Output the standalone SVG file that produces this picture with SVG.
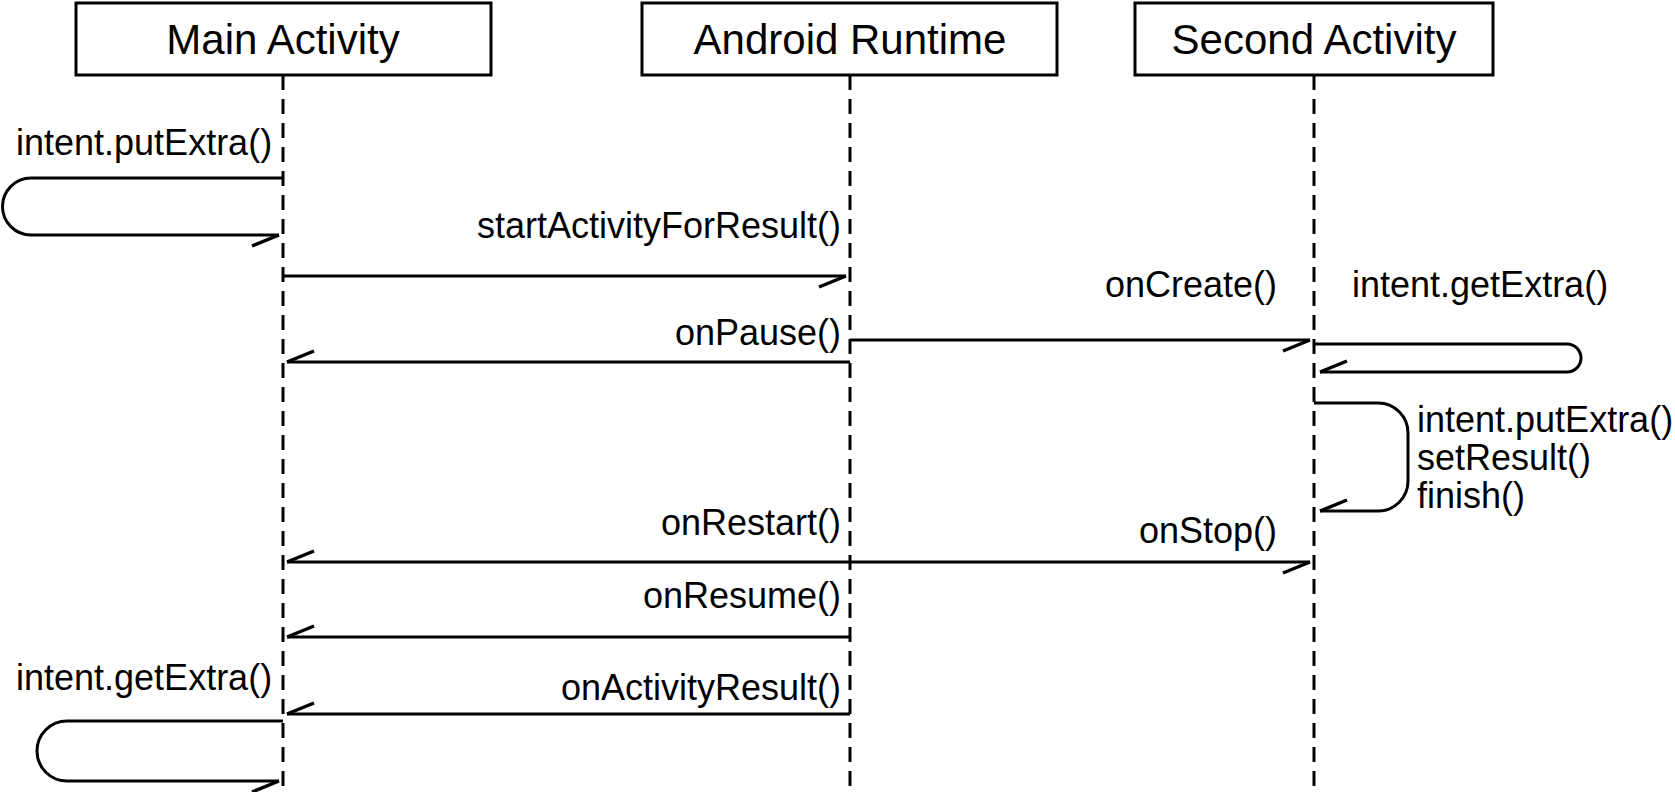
<svg xmlns="http://www.w3.org/2000/svg" width="1675" height="792" viewBox="0 0 1675 792">
<style>
.box{fill:#fff;stroke:#000;stroke-width:3}
.hdr{font-family:"Liberation Sans",Arial,sans-serif;font-size:42px;fill:#000;text-anchor:middle}
.lbl{font-family:"Liberation Sans",Arial,sans-serif;font-size:36px;fill:#000}
.end{text-anchor:end}
.life{stroke:#000;stroke-width:3;stroke-dasharray:15 9;fill:none}
.msg{stroke:#000;stroke-width:3;fill:none;marker-end:url(#half)}
</style>
<defs>
<marker id="half" markerUnits="userSpaceOnUse" viewBox="-32 -16 36 32" markerWidth="36" markerHeight="32" refX="0" refY="0" orient="auto" overflow="visible">
<path d="M0,0 L-27,11" stroke="#000" stroke-width="3.5" fill="none" stroke-linecap="butt"/>
</marker>
</defs>
<rect width="1675" height="792" fill="#fff"/>
<g id="main-activity">
<rect class="box" x="76" y="3" width="415" height="72"/>
<text class="hdr" x="283" y="54">Main Activity</text>
<line class="life" x1="283" y1="75" x2="283" y2="792"/>
</g>
<g id="android-runtime">
<rect class="box" x="642" y="3" width="415" height="72"/>
<text class="hdr" x="850" y="54">Android Runtime</text>
<line class="life" x1="850" y1="75" x2="850" y2="792"/>
</g>
<g id="second-activity">
<rect class="box" x="1135" y="3" width="358" height="72"/>
<text class="hdr" x="1314" y="54">Second Activity</text>
<line class="life" x1="1314" y1="75" x2="1314" y2="792"/>
</g>
<g id="connectors">
<path class="msg" d="M283,178 H31 A28.5,28.5 0 0 0 31,235 H279"/>
<line class="msg" x1="283" y1="276" x2="846" y2="276"/>
<line class="msg" x1="850" y1="340" x2="1310" y2="340"/>
<line class="msg" x1="850" y1="362" x2="287" y2="362"/>
<path class="msg" d="M1314,344 H1567 A14,14 0 0 1 1567,372 H1320"/>
<path class="msg" d="M1314,403 H1378 A30,30 0 0 1 1408,433 V481 A30,30 0 0 1 1378,511 H1320"/>
<line class="msg" x1="850" y1="562" x2="287" y2="562"/>
<line class="msg" x1="850" y1="562" x2="1310" y2="562"/>
<line class="msg" x1="850" y1="637" x2="287" y2="637"/>
<line class="msg" x1="850" y1="714" x2="287" y2="714"/>
<path class="msg" d="M283,721 H67 A30,30 0 0 0 67,781 H279"/>
</g>
<g id="labels">
<text class="lbl" x="16" y="155">intent.putExtra()</text>
<text class="lbl end" x="841" y="238">startActivityForResult()</text>
<text class="lbl end" x="1277" y="297">onCreate()</text>
<text class="lbl" x="1352" y="297">intent.getExtra()</text>
<text class="lbl end" x="841" y="345">onPause()</text>
<text class="lbl" x="1417" y="432">intent.putExtra()</text>
<text class="lbl" x="1417" y="470">setResult()</text>
<text class="lbl" x="1417" y="508">finish()</text>
<text class="lbl end" x="841" y="535">onRestart()</text>
<text class="lbl end" x="1277" y="543">onStop()</text>
<text class="lbl end" x="841" y="608">onResume()</text>
<text class="lbl end" x="841" y="700">onActivityResult()</text>
<text class="lbl" x="16" y="690">intent.getExtra()</text>
</g>
</svg>
